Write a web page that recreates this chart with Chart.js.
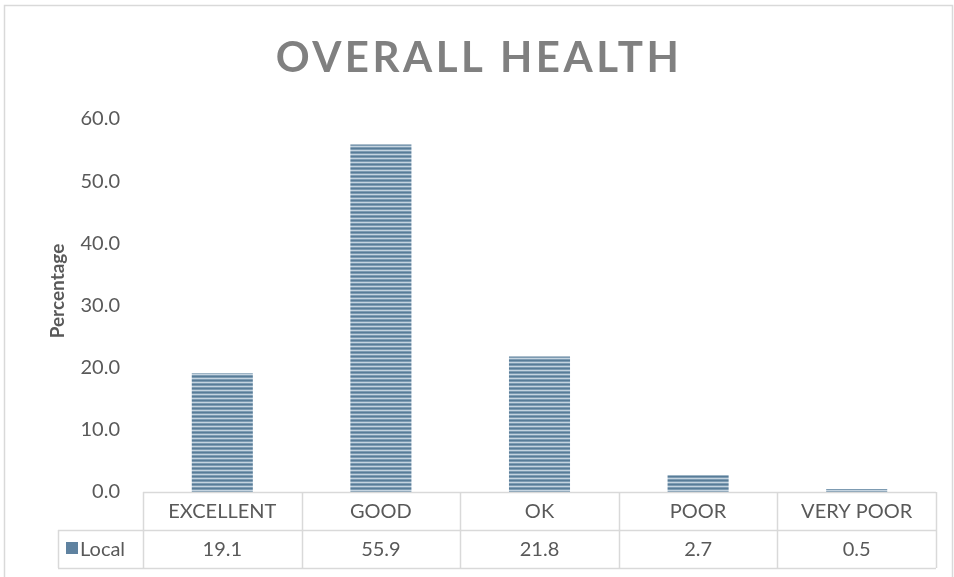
<!DOCTYPE html>
<html>
<head>
<meta charset="utf-8">
<title>Overall Health</title>
<script src="https://cdn.jsdelivr.net/npm/chart.js@4.4.1/dist/chart.umd.min.js"></script>
<style>
  html, body { margin: 0; padding: 0; background: #ffffff; }
  canvas { display: block; }
</style>
</head>
<body>
<canvas id="chart" width="954" height="577"></canvas>
<script>
// Survey results: share of respondents per self-rated health level
const chartTitle = 'OVERALL HEALTH';
const categories = ['EXCELLENT', 'GOOD', 'OK', 'POOR', 'VERY POOR'];
const seriesName = 'Local';
const localValues = [19.1, 55.9, 21.8, 2.7, 0.5];
const yTicks = [0, 10, 20, 30, 40, 50, 60];
const yAxisTitle = 'Percentage';

const TEXT = '#595959';
const GRID = '#d9d9d9';
const FONT = 'Lato, "Open Sans", sans-serif';

// Horizontal-stripe fill used for the bars and the legend key
function stripePattern() {
  const c = document.createElement('canvas');
  c.width = 4; c.height = 4;
  const g = c.getContext('2d');
  const rows = ['#587c98', '#7d9bb2', '#c5d4e0', '#7d9bb2'];
  rows.forEach((col, i) => { g.fillStyle = col; g.fillRect(0, i, 4, 1); });
  return g.createPattern(c, 'repeat');
}
const barFill = stripePattern();

// Outer frame, titles and the data table under the axis
const decorations = {
  id: 'decorations',
  beforeDraw(chart) {
    const ctx = chart.ctx;
    ctx.save();
    ctx.strokeStyle = GRID;
    ctx.lineWidth = 1.5;
    ctx.strokeRect(4.5, 5.5, 948, 590);
    ctx.restore();
  },
  afterDraw(chart) {
    const ctx = chart.ctx;
    const area = chart.chartArea;
    const xs = chart.scales.x;
    const n = categories.length;
    const colW = (area.right - area.left) / n;

    // chart title
    ctx.save();
    ctx.fillStyle = '#808080';
    ctx.font = 'bold 42px ' + FONT;
    ctx.letterSpacing = '3.5px';
    ctx.textAlign = 'center';
    ctx.textBaseline = 'alphabetic';
    ctx.fillText(chartTitle, chart.width / 2 + 2, 72);
    ctx.restore();

    // vertical axis title
    ctx.save();
    ctx.translate(58, 291);
    ctx.rotate(-Math.PI / 2);
    ctx.fillStyle = TEXT;
    ctx.font = 'bold 19px ' + FONT;
    ctx.textAlign = 'center';
    ctx.textBaseline = 'middle';
    ctx.fillText(yAxisTitle, 0, 0);
    ctx.restore();

    // table grid
    const y0 = area.bottom, y1 = y0 + 38, y2 = y1 + 38;
    const legendLeft = 58;
    ctx.save();
    ctx.strokeStyle = GRID;
    ctx.lineWidth = 1.5;
    ctx.beginPath();
    ctx.moveTo(area.left, y0 + 0.5); ctx.lineTo(area.right, y0 + 0.5);
    ctx.moveTo(legendLeft, y1 + 0.5); ctx.lineTo(area.right, y1 + 0.5);
    ctx.moveTo(legendLeft, y2 + 0.5); ctx.lineTo(area.right, y2 + 0.5);
    ctx.moveTo(legendLeft + 0.5, y1); ctx.lineTo(legendLeft + 0.5, y2);
    for (let i = 0; i <= n; i++) {
      const x = Math.round(area.left + i * colW) + 0.5;
      ctx.moveTo(x, y0); ctx.lineTo(x, y2);
    }
    ctx.stroke();

    // table text
    ctx.fillStyle = TEXT;
    ctx.font = '20px ' + FONT;
    ctx.textAlign = 'center';
    ctx.textBaseline = 'alphabetic';
    categories.forEach((cat, i) => {
      const cx = xs.getPixelForValue(i);
      ctx.fillText(cat, cx, y0 + 26);
      ctx.fillText(localValues[i].toFixed(1), cx, y1 + 26);
    });

    // legend key
    ctx.fillStyle = '#5f82a0';
    ctx.fillRect(66, y1 + 12, 12, 12);
    ctx.fillStyle = TEXT;
    ctx.textAlign = 'left';
    ctx.fillText(seriesName, 80, y1 + 26);
    ctx.restore();
  }
};

new Chart(document.getElementById('chart'), {
  type: 'bar',
  data: {
    labels: categories,
    datasets: [{
      label: seriesName,
      data: localValues,
      backgroundColor: barFill,
      borderWidth: 0,
      categoryPercentage: 1.0,
      barPercentage: 0.385
    }]
  },
  options: {
    responsive: false,
    animation: false,
    devicePixelRatio: 1,
    layout: { padding: { top: 119, left: 4, right: 18, bottom: 0 } },
    plugins: {
      legend: { display: false },
      title: { display: false },
      tooltip: { enabled: false }
    },
    scales: {
      x: {
        grid: { display: false, drawTicks: false },
        border: { display: false },
        ticks: { display: false },
        afterFit(scale) { scale.height = 85; }
      },
      y: {
        min: yTicks[0],
        max: yTicks[yTicks.length - 1],
        grid: { display: false, drawTicks: false },
        border: { display: false },
        ticks: {
          stepSize: yTicks[1] - yTicks[0],
          padding: 23,
          color: TEXT,
          font: { family: FONT, size: 20 },
          callback: (v) => Number(v).toFixed(1)
        },
        title: { display: false },
        afterFit(scale) { scale.width = 139; }
      }
    }
  },
  plugins: [decorations]
});
</script>
</body>
</html>
